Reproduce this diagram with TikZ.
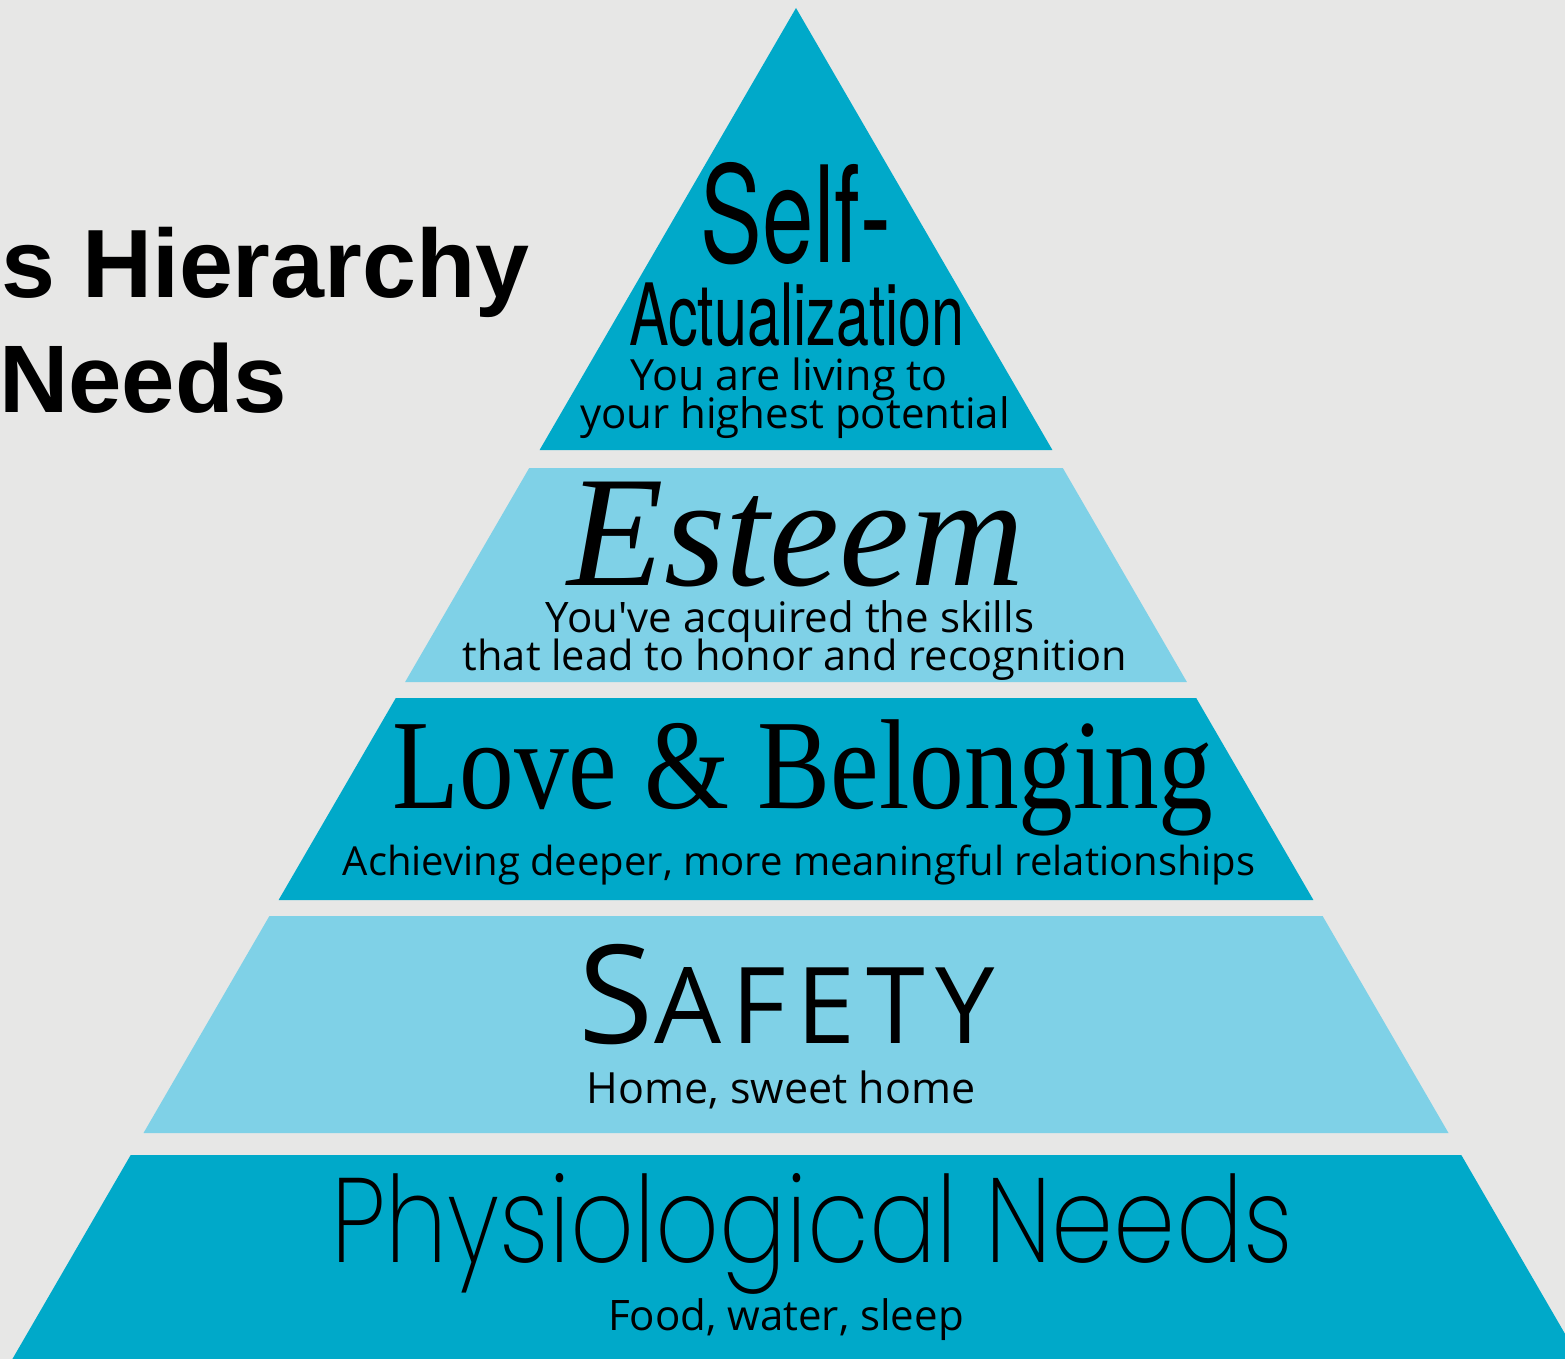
\documentclass[tikz,border=0pt]{standalone}
\usepackage{fontspec}
\usepackage{tikz}
\usepackage{xcolor}
\usetikzlibrary{positioning}

\definecolor{bgpaper}{RGB}{231,231,230}
\definecolor{tealdark}{RGB}{0,169,201}
\definecolor{teallight}{RGB}{127,209,231}

\newfontfamily\titlefont{Liberation Sans}
\newfontfamily\condfont[FakeStretch=0.69]{TeX Gyre Heros}
\newfontfamily\humfont{Open Sans}
\newfontfamily\seriffont{Liberation Serif}
\newfontfamily\serifcond[FakeStretch=0.855]{Liberation Serif}
\newfontfamily\capsfont[LetterSpace=10]{Open Sans}
\newfontfamily\thinfont[FakeStretch=0.83]{Poppins ExtraLight}
\newcommand\setfs[1]{\fontsize{#1}{#1}\selectfont}

\tikzset{lbl/.style={inner sep=0pt,anchor=base,text=black}}

\begin{document}
\begin{tikzpicture}[line cap=round,line join=round,x=1pt,y=-1pt]
                \useasboundingbox (0,0) rectangle (1565,1359);
                \clip (0,0) rectangle (1565,1359);
                \fill [bgpaper] (0,0) rectangle (1565,1359);
                \fill [tealdark] (796,8)-- (1052.4,450)-- (539.6,450)-- cycle;
                \fill [teallight] (529.2,468)-- (1062.8,468)-- (1186.9,682)-- (405.1,682)-- cycle;
                \fill [tealdark] (395.8,698)-- (1196.2,698)-- (1313.4,900)-- (278.6,900)-- cycle;
                \fill [teallight] (269.4,916)-- (1322.6,916)-- (1448.5,1133)-- (143.5,1133)-- cycle;
                \fill [tealdark] (130.7,1155)-- (1461.3,1155)-- (1579.6,1359)-- (12.4,1359)-- cycle;
                \node[lbl,anchor=base west] (title1) at (1,297) {\titlefont\bfseries\setfs{97}s Hierarchy};
                \node[lbl,anchor=base west] (title2) at (-1,412) {\titlefont\bfseries\setfs{96}Needs};
                \node[lbl] (self) at (796,262) {\condfont\setfs{134}Self-};
                \node[lbl] (actual) at (797,345) {\condfont\setfs{86}Actualization};
                \node[lbl] (actsub1) at (789,390) {\humfont\setfs{43}You are living to};
                \node[lbl] (actsub2) at (795,428) {\humfont\setfs{42}your highest potential};
                \node[lbl] (esteem) at (796,585) {\seriffont\itshape\setfs{158}Esteem};
                \node[lbl] (estsub1) at (790,632) {\humfont\setfs{42}You've acquired the skills};
                \node[lbl] (estsub2) at (795,670) {\humfont\setfs{41.5}that lead to honor and recognition};
                \node[lbl] (love) at (803,808) {\serifcond\setfs{128}Love \& Belonging};
                \node[lbl] (lovesub) at (799,875) {\humfont\setfs{40}Achieving deeper, more meaningful relationships};
                \node[lbl] (safety) at (787,1043) {\capsfont{\setfs{137}S}\setfs{106}AFETY};
                \node[lbl] (safesub) at (781,1103) {\humfont\setfs{43}Home, sweet home};
                \node[lbl] (phys) at (812,1262) {\thinfont\setfs{120}Physiological Needs};
                \node[lbl] (physsub) at (786,1330) {\humfont\setfs{42}Food, water, sleep};
            \end{tikzpicture}
\end{document}
